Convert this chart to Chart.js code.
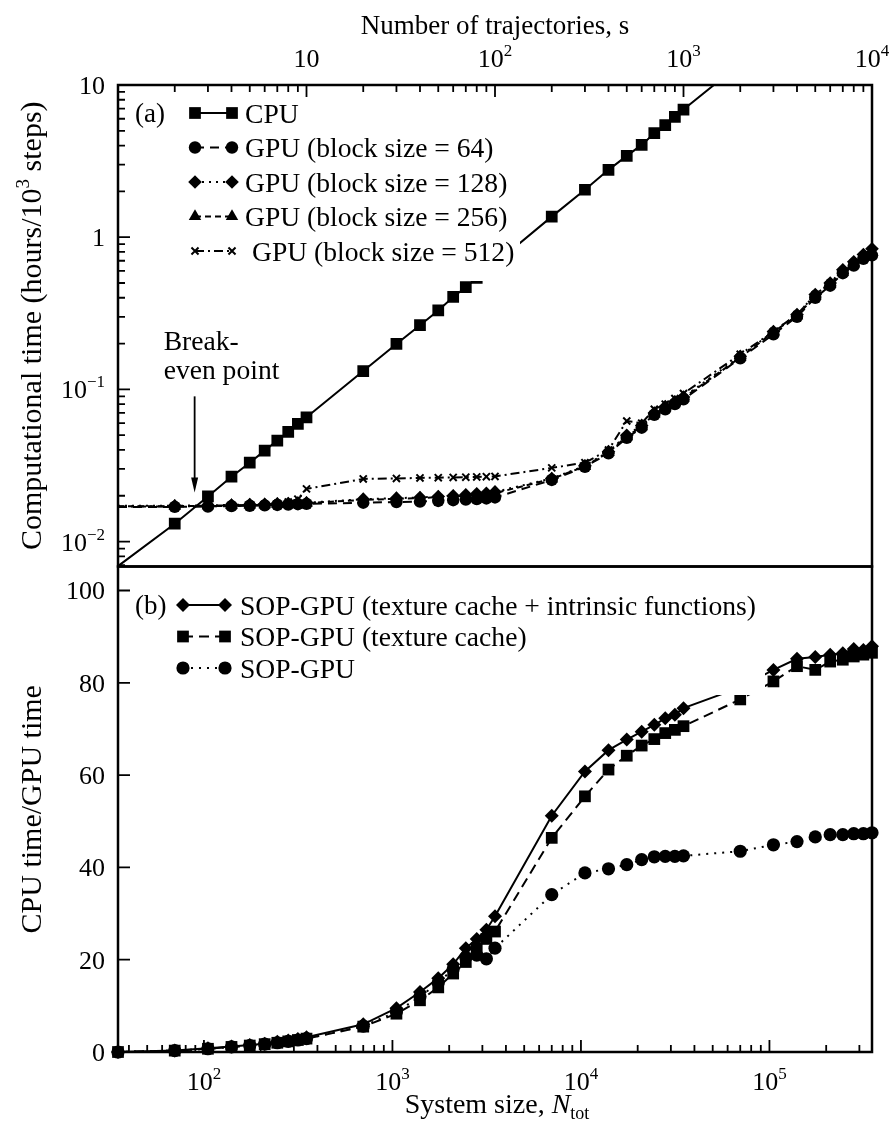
<!DOCTYPE html>
<html>
<head>
<meta charset="utf-8">
<title>SOP-GPU timing</title>
<script src="https://cdn.jsdelivr.net/npm/chart.js@4.4.1/dist/chart.umd.min.js"></script>
<style>
    html, body { margin: 0; padding: 0; background: #fff; }
</style>
</head>
<body>
<canvas id="timing" width="890" height="1128"></canvas>
<script>
// number of trajectories s (top axis) and system size N_tot (bottom axis)
var trajectories = [1, 2, 3, 4, 5, 6, 7, 8, 9, 10, 20, 30, 40, 50, 60, 70, 80, 90, 100,
    200, 300, 400, 500, 600, 700, 800, 900, 1000, 2000, 3000, 4000, 5000, 6000, 7000, 8000, 9000, 10000]
var systemSize = [35, 70, 105, 140, 175, 210, 245, 280, 315, 350, 700, 1050, 1400, 1750, 2100, 2450, 2800, 3150, 3500,
    7000, 10500, 14000, 17500, 21000, 24500, 28000, 31500, 35000, 70000, 105000, 140000, 175000, 210000, 245000, 280000, 315000, 350000]

// (a) computational time, hours per 10^3 steps
var cpuHours = [0.0069, 0.0131, 0.0198, 0.0267, 0.033, 0.0396, 0.0461, 0.0525, 0.0593, 0.0656,
    0.132, 0.199, 0.264, 0.33, 0.405, 0.469, 0.54, 0.60, 0.67,
    1.365, 2.05, 2.77, 3.42, 4.04, 4.82, 5.45, 6.17, 6.9, 13.8]
var gpu64 = [0.0169, 0.0169, 0.0170, 0.0171, 0.0172, 0.0173, 0.0174, 0.0175, 0.0176, 0.0177,
    0.0180, 0.0182, 0.0183, 0.0185, 0.0187, 0.0189, 0.0190, 0.0192, 0.0195,
    0.0254, 0.0310, 0.038, 0.048, 0.056, 0.068, 0.074, 0.080, 0.086,
    0.160, 0.230, 0.300, 0.40, 0.48, 0.58, 0.65, 0.72, 0.76]
var gpu128 = [0.0172, 0.0172, 0.0173, 0.0174, 0.0175, 0.0176, 0.0177, 0.0178, 0.0179, 0.0180,
    0.0190, 0.0193, 0.0195, 0.0198, 0.0200, 0.0203, 0.0206, 0.0208, 0.0212,
    0.0260, 0.0315, 0.039, 0.050, 0.058, 0.070, 0.077, 0.083, 0.089,
    0.165, 0.240, 0.31, 0.42, 0.50, 0.61, 0.69, 0.77, 0.84]
var gpu256 = [0.0171, 0.0171, 0.0172, 0.0173, 0.0174, 0.0175, 0.0176, 0.0177, 0.0178, 0.0179,
    0.0188, 0.0191, 0.0193, 0.0196, 0.0198, 0.0200, 0.0203, 0.0205, 0.0208,
    0.0258, 0.0312, 0.0385, 0.049, 0.057, 0.069, 0.076, 0.082, 0.088,
    0.162, 0.238, 0.305, 0.41, 0.49, 0.59, 0.67, 0.74, 0.80]
var gpu512 = [0.0170, 0.0170, 0.0171, 0.0172, 0.0173, 0.0175, 0.0178, 0.0182, 0.0190, 0.0222,
    0.0258, 0.0260, 0.0262, 0.0263, 0.0264, 0.0265, 0.0266, 0.0267, 0.0268,
    0.0305, 0.033, 0.040, 0.062, 0.060, 0.074, 0.080, 0.087, 0.094,
    0.17, 0.24, 0.31, 0.42, 0.50, 0.60, 0.68, 0.75, 0.81]

// (b) CPU time / GPU time
var speedTexIntr = [0, 0.3, 0.8, 1.2, 1.5, 1.8, 2.2, 2.5, 2.8, 3.2,
    6.0, 9.5, 13.0, 16.0, 19.0, 22.5, 24.5, 26.5, 29.4,
    51.2, 60.8, 65.4, 67.7, 69.4, 70.9, 72.3, 73.1, 74.5,
    79.0, 82.8, 85.2, 85.6, 86.1, 86.4, 87.3, 87.1, 87.9]
var speedTex = [0, 0.3, 0.7, 1.1, 1.4, 1.7, 2.0, 2.3, 2.6, 2.9,
    5.5, 8.3, 11.2, 14.0, 17.0, 19.5, 22.5, 24.5, 26.1,
    46.4, 55.4, 61.2, 64.2, 66.4, 67.8, 69.1, 69.8, 70.6,
    76.4, 80.3, 83.6, 82.8, 84.6, 85.0, 85.7, 86.1, 86.5]
var speedPlain = [0, 0.3, 0.7, 1.1, 1.4, 1.7, 2.0, 2.3, 2.6, 2.9,
    5.6, 8.7, 12.0, 15.0, 18.0, 20.5, 21.0, 20.2, 22.5,
    34.1, 38.8, 39.7, 40.6, 41.7, 42.3, 42.4, 42.4, 42.5,
    43.5, 44.9, 45.6, 46.6, 47.1, 47.1, 47.3, 47.3, 47.5]

// tick labels: [base, exponent]
var trajTicks = [10, 100, 1000, 10000]
var trajTickLabels = [["10", ""], ["10", "2"], ["10", "3"], ["10", "4"]]
var sizeTicks = [100, 1000, 10000, 100000]
var sizeTickLabels = [["10", "2"], ["10", "3"], ["10", "4"], ["10", "5"]]
var timeTicks = [0.01, 0.1, 1, 10]
var timeTickLabels = [["10", "\u22122"], ["10", "\u22121"], ["1", ""], ["10", ""]]
var speedTicks = [0, 20, 40, 60, 80, 100]

var breakEvenS = 2.55

var SERIF = '"Liberation Serif", "Times New Roman", serif'

function pairs(xs, ys) {
    return ys.map(function (y, i) { return { x: xs[i], y: y } })
}

function series(label, xs, ys, panel, style, radius, dash, hideFirst) {
    return {
        label: label,
        data: pairs(xs, ys),
        xAxisID: panel === "a" ? "x2" : "x",
        yAxisID: panel === "a" ? "y" : "y2",
        panel: panel,
        borderColor: "#000",
        backgroundColor: "#000",
        borderWidth: 2,
        borderDash: dash,
        pointStyle: style,
        markerRadius: radius,
        pointRadius: function (c) { return hideFirst && c.dataIndex === 0 ? 0 : radius },
        pointBorderWidth: style === "crossRot" ? 2 : 0,
        pointBackgroundColor: "#000",
        pointBorderColor: "#000",
        tension: 0,
        clip: panel === "a" ? { left: 0, top: 0, right: 10, bottom: 0 } : false,
    }
}

var datasets = [
    series("CPU", trajectories, cpuHours, "a", "rect", 8.3, [], true),
    series("GPU (block size = 64)", trajectories, gpu64, "a", "circle", 6.2, [9, 6], true),
    series("GPU (block size = 128)", trajectories, gpu128, "a", "rectRot", 6.8, [2, 5], true),
    series("GPU (block size = 256)", trajectories, gpu256, "a", "triangle", 7.2, [6, 4], true),
    series("GPU (block size = 512)", trajectories, gpu512, "a", "crossRot", 5, [9, 4, 2, 4], true),
    series("SOP-GPU (texture cache + intrinsic functions)", systemSize, speedTexIntr, "b", "rectRot", 7, [], false),
    series("SOP-GPU (texture cache)", systemSize, speedTex, "b", "rect", 8.3, [10, 6], false),
    series("SOP-GPU", systemSize, speedPlain, "b", "circle", 6.6, [2, 6], false),
]

function fontOf(p) {
    return (p.italic ? "italic " : "") + p.size + "px " + SERIF
}

// draw a run of text pieces (base, superscripts, subscripts) on one baseline
function drawRich(ctx, parts, x, y, align) {
    var total = 0
    parts.forEach(function (p) {
        ctx.font = fontOf(p)
        p.w = ctx.measureText(p.t).width
        total += p.w
    })
    var cx = align === "center" ? x - total / 2 : align === "right" ? x - total : x
    ctx.textAlign = "left"
    ctx.textBaseline = "alphabetic"
    parts.forEach(function (p) {
        ctx.font = fontOf(p)
        ctx.fillText(p.t, cx, y + (p.dy || 0))
        cx += p.w
    })
}

function powerParts(lbl, size) {
    var parts = [{ t: lbl[0], size: size }]
    if (lbl[1]) parts.push({ t: lbl[1], size: Math.round(size * 0.64), dy: -size * 0.42 })
    return parts
}

function logTicks(scale) {
    var out = []
    var lo = Math.floor(Math.log10(scale.min)), hi = Math.ceil(Math.log10(scale.max))
    for (var k = lo; k <= hi; k++) {
        for (var m = 1; m <= 9; m++) {
            var v = m * Math.pow(10, k)
            if (v > scale.min * 1.001 && v < scale.max * 0.999) out.push({ v: v, major: m === 1 })
        }
    }
    return out
}

function marker(ctx, ds, x, y) {
    ctx.setLineDash([])
    ctx.fillStyle = "#000"
    ctx.strokeStyle = "#000"
    ctx.lineWidth = 2
    Chart.helpers.drawPoint(ctx, {
        pointStyle: ds.pointStyle,
        radius: ds.markerRadius,
        rotation: 0,
        borderWidth: ds.pointStyle === "crossRot" ? 2 : 0,
    }, x, y)
}

function drawLegend(chart, panel, box) {
    var ctx = chart.ctx
    ctx.fillStyle = "#fff"
    ctx.fillRect(box.left, box.top, box.right - box.left, box.bottom - box.top)
    ctx.fillStyle = "#000"
    drawRich(ctx, [{ t: box.tag, size: 27 }], box.tagX, box.rows[0] + 9, "left")
    var row = 0
    chart.data.datasets.forEach(function (ds) {
        if (ds.panel !== panel) return
        var y = box.rows[row]
        ctx.strokeStyle = "#000"
        ctx.lineWidth = 2
        ctx.setLineDash(ds.borderDash)
        ctx.beginPath()
        ctx.moveTo(box.m1, y)
        ctx.lineTo(box.m2, y)
        ctx.stroke()
        marker(ctx, ds, box.m1, y)
        marker(ctx, ds, box.m2, y)
        ctx.fillStyle = "#000"
        drawRich(ctx, [{ t: ds.label, size: 27.6 }], box.textX + (box.shift[row] || 0), y + 9.5, "left")
        row++
    })
}

var panelDecor = {
    id: "panelDecor",
    afterDraw: function (chart) {
        var ctx = chart.ctx, area = chart.chartArea
        var sx = chart.scales.x, sx2 = chart.scales.x2, sy = chart.scales.y, sy2 = chart.scales.y2
        ctx.save()

        drawLegend(chart, "a", {
            left: 128, top: 96, right: 520, bottom: 281, tag: "(a)", tagX: 135,
            rows: [113, 147.5, 182, 216.5, 251], m1: 195, m2: 232, textX: 245, shift: [0, 0, 0, 0, 7],
        })
        drawLegend(chart, "b", {
            left: 128, top: 578, right: 765, bottom: 695, tag: "(b)", tagX: 135,
            rows: [605, 636.5, 668], m1: 183, m2: 225, textX: 240, shift: [],
        })

        // frames of both panels
        ctx.setLineDash([])
        ctx.strokeStyle = "#000"
        ctx.lineWidth = 2.5
        ctx.strokeRect(area.left, sy.top, area.right - area.left, sy.bottom - sy.top)
        ctx.strokeRect(area.left, sy2.top, area.right - area.left, sy2.bottom - sy2.top)

        // inward ticks
        ctx.lineWidth = 1.8
        ctx.beginPath()
        logTicks(sx2).forEach(function (t) {
            var px = sx2.getPixelForValue(t.v)
            ctx.moveTo(px, sy.top)
            ctx.lineTo(px, sy.top + (t.major ? 12 : 7))
        })
        logTicks(sx).forEach(function (t) {
            var px = sx.getPixelForValue(t.v)
            ctx.moveTo(px, sy2.bottom)
            ctx.lineTo(px, sy2.bottom - (t.major ? 12 : 7))
        })
        logTicks(sy).forEach(function (t) {
            var py = sy.getPixelForValue(t.v)
            ctx.moveTo(area.left, py)
            ctx.lineTo(area.left + (t.major ? 12 : 7), py)
        })
        speedTicks.forEach(function (v) {
            var py = sy2.getPixelForValue(v)
            if (v === 0) return
            ctx.moveTo(area.left, py)
            ctx.lineTo(area.left + 12, py)
        })
        ctx.stroke()

        // tick labels
        ctx.fillStyle = "#000"
        trajTicks.forEach(function (v, i) {
            drawRich(ctx, powerParts(trajTickLabels[i], 26), sx2.getPixelForValue(v), sy.top - 18, "center")
        })
        sizeTicks.forEach(function (v, i) {
            drawRich(ctx, powerParts(sizeTickLabels[i], 26), sx.getPixelForValue(v), sy2.bottom + 38, "center")
        })
        timeTicks.forEach(function (v, i) {
            drawRich(ctx, powerParts(timeTickLabels[i], 26), area.left - 13, sy.getPixelForValue(v) + 9, "right")
        })
        speedTicks.forEach(function (v) {
            drawRich(ctx, [{ t: String(v), size: 26 }], area.left - 13, sy2.getPixelForValue(v) + 9, "right")
        })

        // axis titles
        var midX = (area.left + area.right) / 2
        drawRich(ctx, [{ t: "Number of trajectories, s", size: 27 }], midX, 34, "center")
        drawRich(ctx, [
            { t: "System size, ", size: 28 },
            { t: "N", size: 28, italic: true },
            { t: "tot", size: 18, dy: 6 },
        ], midX + 2, sy2.bottom + 61, "center")

        ctx.save()
        ctx.translate(31, (sy.top + sy.bottom) / 2)
        ctx.rotate(-Math.PI / 2)
        drawRich(ctx, [
            { t: "Computational time (hours/10", size: 30 },
            { t: "3", size: 19, dy: -12 },
            { t: " steps)", size: 30 },
        ], 0, 10, "center")
        ctx.restore()
        ctx.save()
        ctx.translate(31, (sy2.top + sy2.bottom) / 2)
        ctx.rotate(-Math.PI / 2)
        drawRich(ctx, [{ t: "CPU time/GPU time", size: 30 }], 0, 10, "center")
        ctx.restore()

        // break-even annotation
        var ax = sx2.getPixelForValue(breakEvenS)
        var tipY = sy.getPixelForValue(0.021)
        var tailY = sy.getPixelForValue(0.09)
        ctx.lineWidth = 1.8
        ctx.beginPath()
        ctx.moveTo(ax, tailY)
        ctx.lineTo(ax, tipY - 10)
        ctx.stroke()
        ctx.beginPath()
        ctx.moveTo(ax, tipY)
        ctx.lineTo(ax - 3.5, tipY - 15)
        ctx.lineTo(ax + 3.5, tipY - 15)
        ctx.closePath()
        ctx.fill()
        drawRich(ctx, [{ t: "Break-", size: 27.6 }], ax - 31, tailY - 46, "left")
        drawRich(ctx, [{ t: "even point", size: 27.6 }], ax - 31, tailY - 17, "left")

        ctx.restore()
    },
}

function fixed(size, vertical) {
    return function (scale) {
        if (vertical) scale.width = size
        else scale.height = size
    }
}

var hidden = { ticks: { display: false }, grid: { display: false }, border: { display: false } }

new Chart("timing", {
    type: "line",
    data: { datasets: datasets },
    options: {
        responsive: false,
        animation: false,
        devicePixelRatio: 1,
        parsing: true,
        layout: { padding: { left: 0, top: 0, right: 18, bottom: 0 } },
        plugins: { legend: { display: false }, tooltip: { enabled: false } },
        scales: {
            x: Object.assign({ type: "logarithmic", position: "bottom", min: 35, max: 350000, afterFit: fixed(76, false) }, hidden),
            x2: Object.assign({ type: "logarithmic", position: "top", min: 1, max: 10000, afterFit: fixed(85, false) }, hidden),
            y: Object.assign({ type: "logarithmic", position: "left", stack: "panels", stackWeight: 481.6, weight: 2,
                min: 0.00686, max: 10, afterFit: fixed(118, true) }, hidden),
            y2: Object.assign({ type: "linear", position: "left", stack: "panels", stackWeight: 485.6, weight: 1,
                min: 0, max: 105.2, afterFit: fixed(118, true) }, hidden),
        },
    },
    plugins: [panelDecor],
})
</script>
</body>
</html>
